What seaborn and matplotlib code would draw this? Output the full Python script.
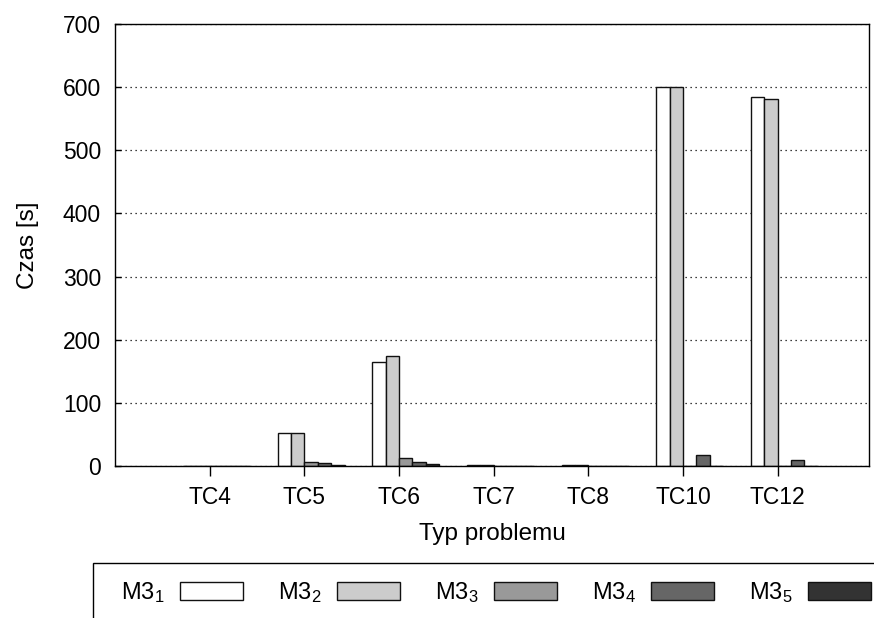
import matplotlib
matplotlib.use("Agg")
import matplotlib.pyplot as plt
import seaborn as sns
import pandas as pd
import numpy as np
from matplotlib.patches import Patch, Rectangle

categories = ["TC4", "TC5", "TC6", "TC7", "TC8", "TC10", "TC12"]
series = ["M3$_1$", "M3$_2$", "M3$_3$", "M3$_4$", "M3$_5$"]
m31 = [0.0, 52, 165, 1.5, 1.5, 600, 584]
m32 = [0.0, 53, 175, 1.5, 1.5, 600, 582]
m33 = [0.0, 7, 13, 0.3, 0.5, 0.5, 0.5]
m34 = [0.0, 4, 7, 0.5, 0.5, 17, 10]
m35 = [0.0, 2, 2.5, 0.2, 0.3, 0.3, 0.3]
colors = ["#ffffff", "#cccccc", "#999999", "#666666", "#333333"]
yticks = [0, 100, 200, 300, 400, 500, 600, 700]

sns.set_style("ticks")
plt.rcParams["font.family"] = ["Liberation Sans", "DejaVu Sans"]
plt.rcParams["mathtext.fontset"] = "custom"
plt.rcParams["mathtext.rm"] = "Liberation Sans"
plt.rcParams["mathtext.it"] = "Liberation Sans"
plt.rcParams["mathtext.bf"] = "Liberation Sans"

n_series = len(series)
bar_w = 0.1415
rows = []
for vals, s in zip([m31, m32, m33, m34, m35], series):
    for i, (c, v) in enumerate(zip(categories, vals)):
        rows.append({"pos": i + bar_w / 2, "series": s, "value": v})
df = pd.DataFrame(rows)

fig = plt.figure(figsize=(8.74, 6.18), dpi=100)
ax = fig.add_axes([115 / 874, 1 - 466 / 618, (869 - 115) / 874, (466 - 24) / 618])

sns.barplot(data=df, x="pos", y="value", hue="series", hue_order=series,
            palette=colors, native_scale=True, width=bar_w * n_series,
            edgecolor="#111111", linewidth=1.0, saturation=1, ax=ax,
            legend=False, errorbar=None)

ax.set_xlim(-1.0, 6.965)
ax.set_ylim(0, 700)
ax.set_yticks(yticks)
ax.set_xticks(range(len(categories)))
ax.set_xticklabels(categories)
ax.set_axisbelow(True)
ax.yaxis.grid(True, linestyle=(0, (1, 3)), color="black", linewidth=0.9)
ax.xaxis.grid(False)
for sp in ax.spines.values():
    sp.set_visible(True)
    sp.set_color("black")
    sp.set_linewidth(1.0)
tfs = 16.5
ax.tick_params(axis="y", direction="in", length=4, width=1, pad=10, labelsize=tfs, colors="black")
ax.tick_params(axis="x", direction="out", length=7, width=1, pad=7.5, labelsize=tfs, colors="black")
ax.set_xlabel("Typ problemu", fontsize=17.5, labelpad=10, color="black")
ax.set_ylabel("Czas [s]", fontsize=17.5, labelpad=17, color="black")

# legend
handles = [Patch(facecolor=c, edgecolor="#111111", linewidth=1.0) for c in colors]
fs = 17
leg = fig.legend(handles, series, loc="center left",
                 bbox_to_anchor=(121 / 874, 1 - 593 / 618), ncol=5,
                 frameon=False, markerfirst=False, fontsize=fs,
                 handlelength=2.67, handleheight=0.8, handletextpad=0.64,
                 columnspacing=1.5, borderpad=0, borderaxespad=0)
for t in leg.get_texts():
    t.set_color("black")
fig.add_artist(Rectangle((93 / 874, -0.05), 1.0, (1 - 563 / 618) + 0.05,
                         transform=fig.transFigure, facecolor="none",
                         edgecolor="black", linewidth=1.0, clip_on=False))

fig.savefig("out.png", dpi=100)
